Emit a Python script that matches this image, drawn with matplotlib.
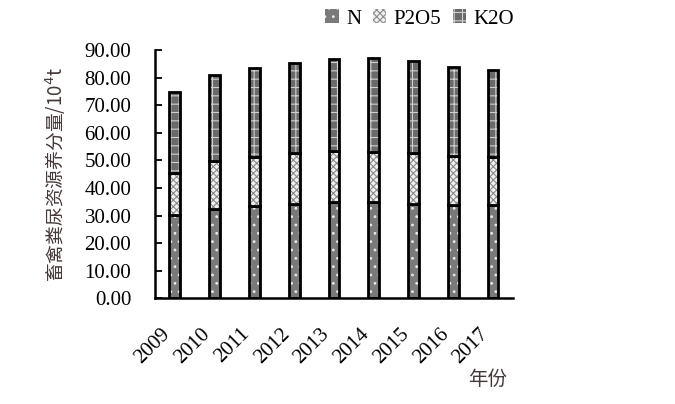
import numpy as np
import matplotlib
matplotlib.use("Agg")
import matplotlib.pyplot as plt
import matplotlib.transforms as mtransforms
from matplotlib.patches import Patch

plt.rcParams['font.family'] = ['Liberation Serif', 'Noto Sans CJK SC', 'DejaVu Sans']
plt.rcParams['hatch.linewidth'] = 0.8

years = ['2009', '2010', '2011', '2012', '2013', '2014', '2015', '2016', '2017']
n_vals = [30.2, 32.4, 33.5, 34.2, 34.8, 34.8, 34.2, 33.9, 33.9]
p2o5_vals = [15.1, 17.4, 17.6, 18.4, 18.6, 18.3, 18.6, 17.7, 17.2]
k2o_vals = [29.6, 31.2, 32.5, 32.8, 33.2, 34.1, 33.3, 32.3, 31.6]
series_names = ['N', 'P2O5', 'K2O']

# 填充样式: (底色, 花纹颜色, 花纹)
styles = [('#7a7a7a', '#e8e8e8', '..'),
          ('#f0f0f0', '#8a8a8a', 'xxxxx'),
          ('#6a6a6a', '#d0d0d0', '++')]

fig = plt.figure(figsize=(6.75, 4.04), dpi=100)
ax = fig.add_axes([0.2296, 0.2616, 0.5304, 0.6144])

x = np.arange(len(years))
w = 0.27
bottom = np.zeros(len(years))
handles = []
for vals, name, (fc, hc, hatch) in zip([n_vals, p2o5_vals, k2o_vals], series_names, styles):
    vals = np.array(vals)
    ax.bar(x, vals, w, bottom=bottom, color=fc, edgecolor=hc, hatch=hatch, linewidth=0)
    ax.bar(x, vals, w, bottom=bottom, fill=False, edgecolor='black', linewidth=2.0)
    handles.append(Patch(facecolor=fc, edgecolor=hc, hatch=hatch, linewidth=0, label=name))
    bottom += vals

ax.set_xlim(-0.5, len(years) - 0.5)
ax.set_ylim(0, 90)
ax.set_yticks(np.arange(0, 91, 10))
ax.set_yticklabels([f'{v:.2f}' for v in np.arange(0, 91, 10)], fontsize=15)
ax.tick_params(axis='y', direction='in', length=5, width=1.3, pad=17)
ax.set_xticks(x)
ax.set_xticklabels(years, rotation=45, ha='right', va='top', rotation_mode='anchor', fontsize=15)
ax.tick_params(axis='x', length=0, pad=19)
shift = mtransforms.ScaledTranslation(-14 / 100, 0, fig.dpi_scale_trans)
for lab in ax.get_xticklabels():
    lab.set_transform(lab.get_transform() + shift)

for s in ['top', 'right']:
    ax.spines[s].set_visible(False)
for s in ['left', 'bottom']:
    ax.spines[s].set_linewidth(1.8)

fig.text(0.082, 0.569, '畜禽粪尿资源养分量/10$^{4}$t', rotation=90, ha='center', va='center',
         fontsize=13.5, family=['Noto Sans CJK SC', 'Liberation Serif'], color='#443838')
fig.text(0.722, 0.06, '年份', ha='center', va='center', fontsize=14,
         family=['Noto Sans CJK SC'], color='#443838')

fig.legend(handles=handles, loc='center', bbox_to_anchor=(0.622, 0.953), ncol=3, frameon=False,
           fontsize=15, handlelength=0.65, handleheight=0.65, handletextpad=0.35, columnspacing=0.55)

fig.savefig('out.png', dpi=100)
